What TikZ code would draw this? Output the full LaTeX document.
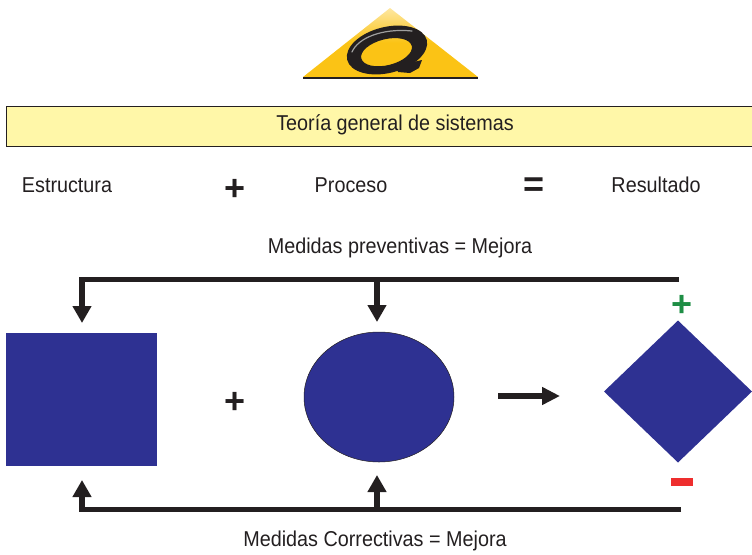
\documentclass[tikz,border=0pt]{standalone}
\usepackage{fontspec}
\setmainfont[FakeStretch=0.92]{Liberation Sans}
\newfontfamily\symfam{Liberation Sans}
\usetikzlibrary{arrows.meta,shapes.geometric}
\definecolor{ink}{HTML}{231F20}
\definecolor{navy}{HTML}{2E3192}
\definecolor{pale}{HTML}{FFF7A8}
\definecolor{gold}{HTML}{FBC315}
\definecolor{grn}{HTML}{1E8E45}
\definecolor{rd}{HTML}{EE2E2E}
\tikzset{
  x=1pt,y=-1pt,
  lbl/.style={inner sep=0pt,text=ink,font=\fontsize{21.5}{25}\selectfont},
  sym/.style={inner sep=0pt,text=ink,font=\fontsize{36}{36}\symfam\bfseries\selectfont},
  shapebox/.style={fill=navy,draw=none,inner sep=0pt,outer sep=0pt},
  rail/.style={draw=ink,line width=5pt},
  feed/.style={draw=ink,line width=6.5pt,-{Triangle[length=17pt,width=18pt]}},
}
\begin{document}
\begin{tikzpicture}
\useasboundingbox (0,0) rectangle (752,554);
% logo
\shade[top color=gold!40,bottom color=gold,middle color=gold] (390,8) -- (478,77) -- (303,77) -- cycle;
\fill[ink] (303,76.5) rectangle (478,79);
\begin{scope}[rotate around={14:(387,50)}]
\fill[even odd rule,ink] (387,50) ellipse [x radius=41,y radius=23] (386,52) ellipse [x radius=26,y radius=13];
\end{scope}
\draw[gray!75,line width=1.2pt,line cap=round] (352,52) .. controls (358,38) and (382,28) .. (412,31);
\fill[ink] (396,66) -- (422,60) -- (419,68) -- (410,73) -- (398,72) -- cycle;
% title
\node[draw=ink,line width=1pt,fill=pale,minimum width=752pt,minimum height=40pt,inner sep=0pt,anchor=north west,outer sep=0pt] (title) at (6,106) {};
\node[lbl] (titletext) at (395,125) {Teoría general de sistemas};
\node[lbl] (estructura) at (67,185) {Estructura};
\node[sym] (plusa) at (235,190) {+};
\node[lbl] (proceso) at (351,185) {Proceso};
\node[sym] (eqa) at (534.5,187) {=};
\node[lbl] (resultado) at (656,185) {Resultado};
\node[lbl] (prev) at (400,248) {Medidas preventivas = Mejora};
\node[lbl] (corr) at (375,541) {Medidas Correctivas = Mejora};
% shapes
\node[shapebox,minimum width=151pt,minimum height=133pt] (sq) at (81.5,399.5) {};
\node[shapebox,draw=ink,line width=.5pt,ellipse,minimum width=150pt,minimum height=130pt] (el) at (379,397) {};
\node[shapebox,diamond,aspect=1,minimum width=148pt,minimum height=142pt] (di) at (678,391.5) {};
\node[sym] (plusb) at (235,403) {+};
\node[sym,text=grn] (plusg) at (682.5,306) {+};
\node[fill=rd,minimum width=22pt,minimum height=8pt,inner sep=0pt] (minusr) at (682,482) {};
% connectors
\coordinate (tr) at (679,279);
\coordinate (tl) at (82,279);
\coordinate (tm) at (377,279);
\coordinate (ttipa) at (82,323);
\coordinate (ttipb) at (377,322);
\coordinate (br) at (681,509);
\coordinate (bl) at (82,509);
\coordinate (bm) at (377,509);
\coordinate (btipa) at (82,480);
\coordinate (btipb) at (377,475);
\coordinate (ra) at (498,396);
\coordinate (rb) at (560,396);
\draw[rail,line cap=butt] (tr) -- (79,279);
\draw[feed] (tl) -- (ttipa);
\draw[feed] (tm) -- (ttipb);
\draw[rail] (br) -- (79,509);
\draw[feed] (82,511.5) -- (btipa);
\draw[feed] (bm) -- (btipb);
\draw[draw=ink,line width=6.5pt,-{Triangle[length=18pt,width=17pt]}] (ra) -- (rb);
\end{tikzpicture}
\end{document}
